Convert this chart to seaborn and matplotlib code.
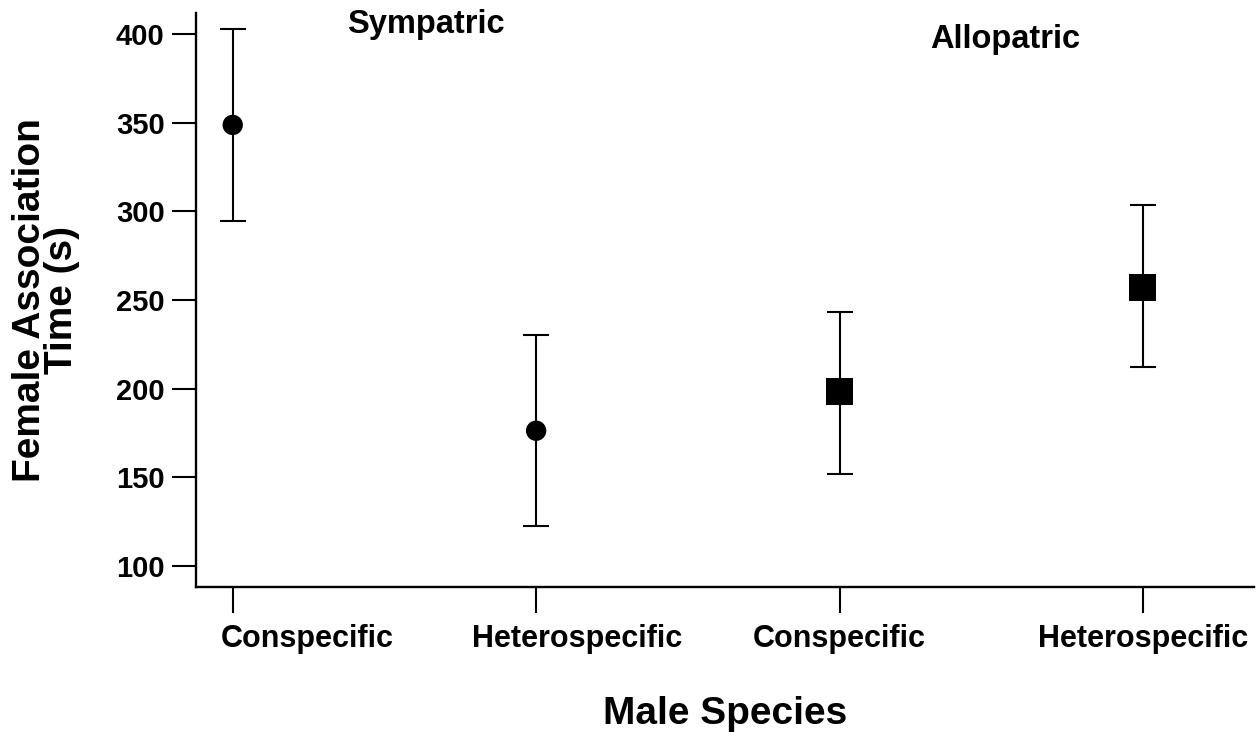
import matplotlib
matplotlib.use("Agg")
import matplotlib.pyplot as plt
import matplotlib.transforms as mtransforms
import seaborn as sns
import numpy as np
import pandas as pd

# ---- data ----
conditions = ["Sympatric", "Sympatric", "Allopatric", "Allopatric"]
species = ["Conspecific", "Heterospecific", "Conspecific", "Heterospecific"]
means = [348.7, 176.3, 198.5, 257.3]
upper = [402.6, 230.4, 243.4, 303.5]
lower = [294.8, 122.4, 152.1, 212.2]
yticks = [100, 150, 200, 250, 300, 350, 400]

sns.set_theme(style="ticks")
plt.rcParams["font.family"] = ["Liberation Sans", "DejaVu Sans"]
plt.rcParams["font.weight"] = "bold"
plt.rcParams["text.color"] = "black"

pos = np.arange(len(means))
df = pd.DataFrame({"pos": pos, "mean": means, "cond": conditions, "species": species})

fig = plt.figure(figsize=(12.59, 7.32), dpi=100)
ax = fig.add_axes([196 / 1259, 1 - 587 / 732, (1254 - 196) / 1259, (587 - 13) / 732])

err = np.array([np.array(means) - np.array(lower), np.array(upper) - np.array(means)])
ax.errorbar(df["pos"], df["mean"], yerr=err, fmt="none", ecolor="black",
            elinewidth=1.5, capsize=9.5, capthick=1.5, zorder=2)

sns.scatterplot(data=df, x="pos", y="mean", style="cond", size="cond",
                markers={"Sympatric": "o", "Allopatric": "s"},
                sizes={"Sympatric": 215, "Allopatric": 380},
                color="black", linewidth=0, legend=False, ax=ax, zorder=3)

ax.set_xlim(-0.121, 3.366)
ax.set_ylim(88.2, 411.8)
ax.set_xticks(pos)
ax.set_xticklabels(species)
ax.set_yticks(yticks)
ax.set_yticklabels([str(t) for t in yticks])

for s in ["top", "right"]:
    ax.spines[s].set_visible(False)
for s in ["left", "bottom"]:
    ax.spines[s].set_linewidth(1.7)
    ax.spines[s].set_color("black")

ax.tick_params(axis="y", direction="out", length=17.5, width=1.5, pad=5,
               labelsize=21, colors="black")
ax.tick_params(axis="x", direction="out", length=18.7, width=1.5, pad=8,
               labelsize=22, colors="black")
for lab in ax.get_xticklabels() + ax.get_yticklabels():
    lab.set_fontweight("bold")

# the first two category labels sit to the right of their ticks in the original
label_shift_px = [75, 41, 0, 0]
for lab, dx in zip(ax.get_xticklabels(), label_shift_px):
    if dx:
        lab.set_transform(lab.get_transform() +
                          mtransforms.ScaledTranslation(dx / 100, 0, fig.dpi_scale_trans))

ax.set_xlabel("Male Species", fontsize=28, fontweight="bold", labelpad=30, color="black")
ax.set_ylabel("Female Association\nTime (s)", fontsize=28, fontweight="bold",
              labelpad=26, linespacing=0.85, color="black")

ax.text(0.637, 400.4, "Sympatric", ha="center", va="baseline", fontsize=23.5,
        fontweight="bold", color="black", clip_on=False)
ax.text(2.545, 391.9, "Allopatric", ha="center", va="baseline", fontsize=23.5,
        fontweight="bold", color="black", clip_on=False)

ax.set_facecolor("white")
fig.patch.set_facecolor("white")
fig.savefig("out.png", dpi=100)
